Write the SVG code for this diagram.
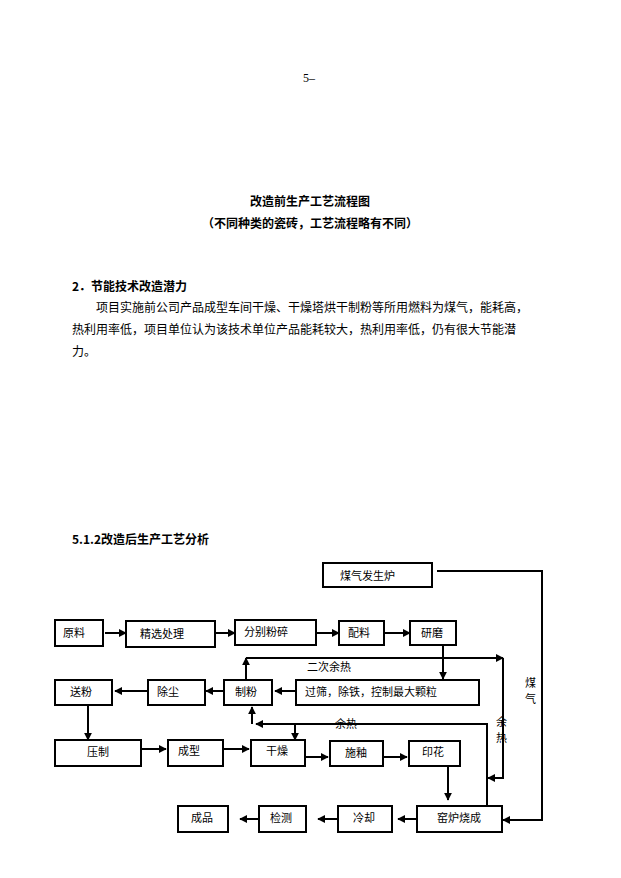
<svg xmlns="http://www.w3.org/2000/svg" width="621" height="878" viewBox="0 0 621 878">
<style>
text{font-family:"Noto Sans CJK SC","Liberation Serif",serif;fill:#000}
.t{font-size:12px}
.b{font-size:12px;font-weight:bold}
.n{font-size:11px}
rect{fill:#fff;stroke:#000;stroke-width:2}
.c path{fill:none;stroke:#000;stroke-width:2}
</style>
<defs><marker id="a" viewBox="0 0 10 10" refX="9" refY="5" markerWidth="4" markerHeight="4" orient="auto"><path d="M0,0L10,5L0,10z" fill="#000"/></marker></defs>
<rect width="621" height="878" style="stroke:none"/>
<text x="303" y="82" class="t" style="font-family:'Liberation Serif',serif">5–</text>
<text x="310" y="206" class="b" text-anchor="middle">改造前生产工艺流程图</text>
<text x="310" y="228" class="b" text-anchor="middle">（不同种类的瓷砖，工艺流程略有不同）</text>
<text x="72" y="291" class="b">2．节能技术改造潜力</text>
<text x="96" y="312" class="t">项目实施前公司产品成型车间干燥、干燥塔烘干制粉等所用燃料为煤气，能耗高，</text>
<text x="72" y="334" class="t">热利用率低，项目单位认为该技术单位产品能耗较大，热利用率低，仍有很大节能潜</text>
<text x="72" y="356" class="t">力。</text>
<text x="72" y="544" class="b">5.1.2改造后生产工艺分析</text>
<g class="c" marker-end="url(#a)">
<path d="M437,571H542V820H503"/>
<path d="M105,633H126"/>
<path d="M215,633H235"/>
<path d="M316,633H339"/>
<path d="M384,633H410"/>
<path d="M443,646V679"/>
<path d="M246,680V658"/>
<path d="M246,658H503"/>
<path d="M503,658V778H488"/>
<path d="M296,691H275"/>
<path d="M224,691H206"/>
<path d="M148,691H115"/>
<path d="M88,705V740"/>
<path d="M141,749H166"/>
<path d="M223,749H249"/>
<path d="M305,757H328"/>
<path d="M383,757H407"/>
<path d="M448,766V800"/>
<path d="M487,805V724H256"/>
<path d="M252,724V707"/>
<path d="M295,724V740"/>
<path d="M417,819H398"/>
<path d="M338,819H318"/>
<path d="M259,819H240"/>
</g>
<g id="n1"><rect x="323" y="563" width="109" height="24"/><text x="340" y="580" class="n">煤气发生炉</text></g>
<g id="n2"><rect x="55" y="620" width="48" height="26"/><text x="63" y="637" class="n">原料</text></g>
<g id="n3"><rect x="126" y="621" width="89" height="26"/><text x="140" y="638" class="n">精选处理</text></g>
<g id="n4"><rect x="235" y="620" width="81" height="25"/><text x="244" y="636" class="n">分别粉碎</text></g>
<g id="n5"><rect x="339" y="621" width="45" height="24"/><text x="348" y="637" class="n">配料</text></g>
<g id="n6"><rect x="410" y="621" width="46" height="24"/><text x="421" y="637" class="n">研磨</text></g>
<g id="n7"><rect x="55" y="680" width="57" height="25"/><text x="70" y="696" class="n">送粉</text></g>
<g id="n8"><rect x="148" y="680" width="57" height="25"/><text x="157" y="696" class="n">除尘</text></g>
<g id="n9"><rect x="224" y="680" width="48" height="25"/><text x="235" y="696" class="n">制粉</text></g>
<g id="n10"><rect x="296" y="680" width="183" height="25"/><text x="305" y="696" class="n">过筛，除铁，控制最大颗粒</text></g>
<g id="n11"><rect x="55" y="740" width="86" height="26"/><text x="87" y="756" class="n">压制</text></g>
<g id="n12"><rect x="168" y="740" width="55" height="26"/><text x="178" y="755" class="n">成型</text></g>
<g id="n13"><rect x="251" y="740" width="54" height="26"/><text x="266" y="755" class="n">干燥</text></g>
<g id="n14"><rect x="330" y="741" width="53" height="25"/><text x="345" y="757" class="n">施釉</text></g>
<g id="n15"><rect x="409" y="741" width="51" height="25"/><text x="422" y="756" class="n">印花</text></g>
<g id="n16"><rect x="178" y="806" width="50" height="26"/><text x="191" y="822" class="n">成品</text></g>
<g id="n17"><rect x="259" y="806" width="47" height="26"/><text x="270" y="822" class="n">检测</text></g>
<g id="n18"><rect x="338" y="806" width="54" height="26"/><text x="353" y="822" class="n">冷却</text></g>
<g id="n19"><rect x="417" y="806" width="85" height="26"/><text x="437" y="822" class="n">窑炉烧成</text></g>
<text x="307" y="671" class="n">二次余热</text>
<text x="335" y="728" class="n">余热</text>
<text x="496" y="726" class="n">余</text>
<text x="496" y="742" class="n">热</text>
<text x="525" y="687" class="n">煤</text>
<text x="525" y="703" class="n">气</text>
</svg>
